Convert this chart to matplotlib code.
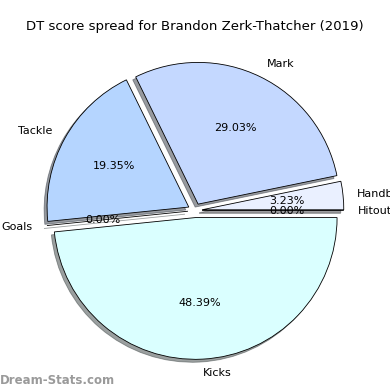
import matplotlib
matplotlib.use("Agg")
import matplotlib.pyplot as plt

labels = ['Hitouts', 'Handball', 'Mark', 'Tackle', 'Goals', 'Kicks']
values = [0, 1, 9, 6, 0, 15]
colors = ['#E0FFFF', '#EAF0FF', '#C4D8FF', '#B5D5FF', '#E0FFFF', '#DAFFFF']
explode = [0.05] * len(values)
title = 'DT score spread for Brandon Zerk-Thatcher (2019)'

fig = plt.figure(figsize=(3.9, 3.9), dpi=100)
ax = fig.add_axes([0.0457, 0.006, 0.9085, 0.9085])
ax.pie(values, labels=labels, colors=colors, explode=explode, autopct='%1.2f%%',
       startangle=0, shadow={'ox': -0.015, 'oy': -0.015, 'shade': 0.75},
       wedgeprops={'edgecolor': 'black', 'linewidth': 0.6},
       textprops={'fontsize': 8})
ax.set_aspect('equal')
fig.text(0.5, 0.933, title, ha='center', va='center', fontsize=9.5)
fig.text(0.0, 0.025, 'Dream-Stats.com', ha='left', va='center', fontsize=8.5,
         color='#9a9a9a', fontweight='bold')
fig.savefig('out.png', dpi=100)
